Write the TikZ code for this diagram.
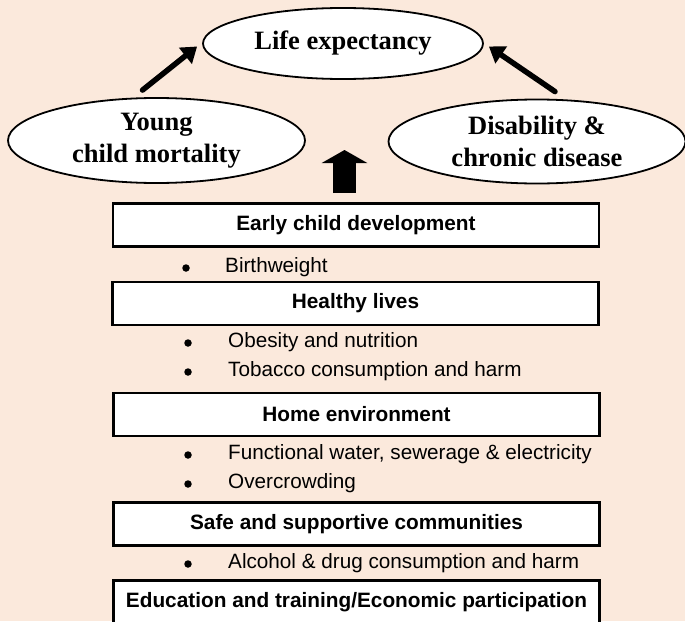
\documentclass[tikz,border=0pt]{standalone}
\usepackage{fontspec}
\setmainfont{Liberation Serif}
\newfontfamily\boxfont{Liberation Sans}
\usetikzlibrary{shapes.geometric,arrows.meta}
\definecolor{bgpeach}{RGB}{251,233,220}
\begin{document}
\begin{tikzpicture}[x=1pt,y=-1pt,
  oval/.style={ellipse,draw=black,line width=1.8pt,fill=white,inner sep=0pt,
    font=\bfseries\fontsize{26.5}{32}\selectfont,align=center},
  levelbox/.style={rectangle,draw=black,line width=2.2pt,fill=white,minimum width=486pt,
    minimum height=43pt,inner sep=0pt,font=\boxfont\bfseries\fontsize{20.8}{24}\selectfont},
  bulletdot/.style={circle,fill=black,inner sep=0pt,minimum size=7.5pt},
  itemtext/.style={anchor=west,inner sep=0pt,font=\boxfont\fontsize{20.7}{24}\selectfont},
  thinarrow/.style={line width=5.5pt,line cap=round,-{Triangle[length=15pt,width=20pt]}},
  blockarrow/.style={line width=23pt,-{Triangle[length=13pt,width=45pt]}}]
\fill[bgpeach] (0,0) rectangle (685,621);
\useasboundingbox (0,0) rectangle (685,621);
\clip (0,0) rectangle (685,621);

\node[oval,minimum width=280pt,minimum height=71pt] (life) at (343,43.5) {Life expectancy};
\node[oval,minimum width=297pt,minimum height=85pt] (young) at (156.5,140.5) {Young\\child mortality};
\node[oval,minimum width=297pt,minimum height=84pt] (dis) at (537,141.5) {Disability \&\\chronic disease};

\draw[thinarrow] ([xshift=-14pt,yshift=7pt]young.north) -- ([xshift=-5pt,yshift=-3pt]life.west);
\draw[thinarrow] ([xshift=18pt,yshift=7pt]dis.north) -- ([xshift=5pt,yshift=-3pt]life.east);

\node[levelbox] (ecd) at (356,225) {Early child development};
\node[levelbox] (hl) at (355.5,303.5) {Healthy lives};
\node[levelbox] (he) at (356.5,414.5) {Home environment};
\node[levelbox] (ssc) at (356.5,524) {Safe and supportive communities};
\node[levelbox] (etp) at (356.5,602) {Education and training/Economic participation};

\coordinate (upbase) at (344.5,193);
\draw[blockarrow] (upbase) -- ++(0,-43) coordinate (uptip);

\node[bulletdot] (d1) at (186,268) {};
\node[itemtext] (t1) at (225,267) {Birthweight};
\node[bulletdot] (d2) at (188,343) {};
\node[itemtext] (t2) at (228,342) {Obesity and nutrition};
\node[bulletdot] (d3) at (188,372) {};
\node[itemtext] (t3) at (228,371) {Tobacco consumption and harm};
\node[bulletdot] (d4) at (188,455) {};
\node[itemtext] (t4) at (228,454) {Functional water, sewerage \& electricity};
\node[bulletdot] (d5) at (188,484) {};
\node[itemtext] (t5) at (228,483) {Overcrowding};
\node[bulletdot] (d6) at (188,564) {};
\node[itemtext] (t6) at (228,563) {Alcohol \& drug consumption and harm};
\end{tikzpicture}
\end{document}
